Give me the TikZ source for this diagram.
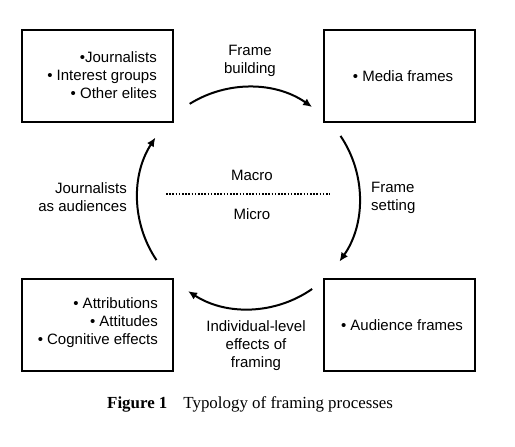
\documentclass[tikz,border=0pt]{standalone}
\usepackage{fontspec}
\setmainfont{Liberation Sans}
\newfontfamily\capfont{Liberation Serif}
\usetikzlibrary{arrows.meta}
\begin{document}
\begin{tikzpicture}[x=1pt,y=1pt,
  box/.style={draw, line width=2pt, minimum width=151pt, minimum height=92pt, inner sep=0pt},
  txt/.style={font=\fontsize{15}{18}\selectfont, inner sep=0pt},
  cyc/.style={line width=2pt, -{Latex[length=9pt,width=8pt]}},
]
\useasboundingbox (0,0) rectangle (515,-447);
% boxes
\node[box] (tl) at (97.5,-76) {};
\node[box] (tr) at (399,-76) {};
\node[box] (bl) at (97.5,-325) {};
\node[box] (br) at (399,-325) {};
% box texts
\node[txt, align=right, anchor=east] (tlt) at (157,-75) {\textbullet Journalists\\\textbullet\ Interest groups\\\textbullet\ Other elites};
\node[txt] (trt) at (403,-76) {\textbullet\ Media frames};
\node[txt, align=right, anchor=east] (blt) at (158,-323) {\textbullet\ Attributions\\\textbullet\ Attitudes\\\textbullet\ Cognitive effects};
\node[txt] (brt) at (402,-325) {\textbullet\ Audience frames};
% cycle
\coordinate (o) at (248.5,-198);
\draw[cyc] (o) ++(122:111) arc[start angle=122, end angle=55, radius=111];
\draw[cyc] (o) ++(34:111) arc[start angle=34, end angle=-35, radius=111];
\draw[cyc] (o) ++(-55:111) arc[start angle=-55, end angle=-123, radius=111];
\draw[cyc] (o) ++(-146:111) arc[start angle=-146, end angle=-213, radius=111];
% labels
\node[txt, align=center] (fb) at (250,-61) {Frame\\building};
\node[txt, align=left, anchor=west] (fs) at (371,-198) {Frame\\setting};
\node[txt, align=right, anchor=east] (ja) at (127,-197) {Journalists\\as audiences};
\node[txt, align=center] (il) at (256,-346) {Individual-level\\effects of\\framing};
\node[txt] (ma) at (252,-175) {Macro};
\node[txt] (mi) at (252,-214) {Micro};
\coordinate (d1) at (166,-194);
\coordinate (d2) at (330,-194);
\draw[line width=1.8pt, dash pattern=on 1.6pt off 1.6pt] (d1) -- (d2);
% caption
\node[font=\capfont\fontsize{16.9}{18}\selectfont, inner sep=0pt, anchor=west] (cap) at (107,-404) {\textbf{Figure 1}\hspace{16pt}Typology of framing processes};
\end{tikzpicture}
\end{document}
